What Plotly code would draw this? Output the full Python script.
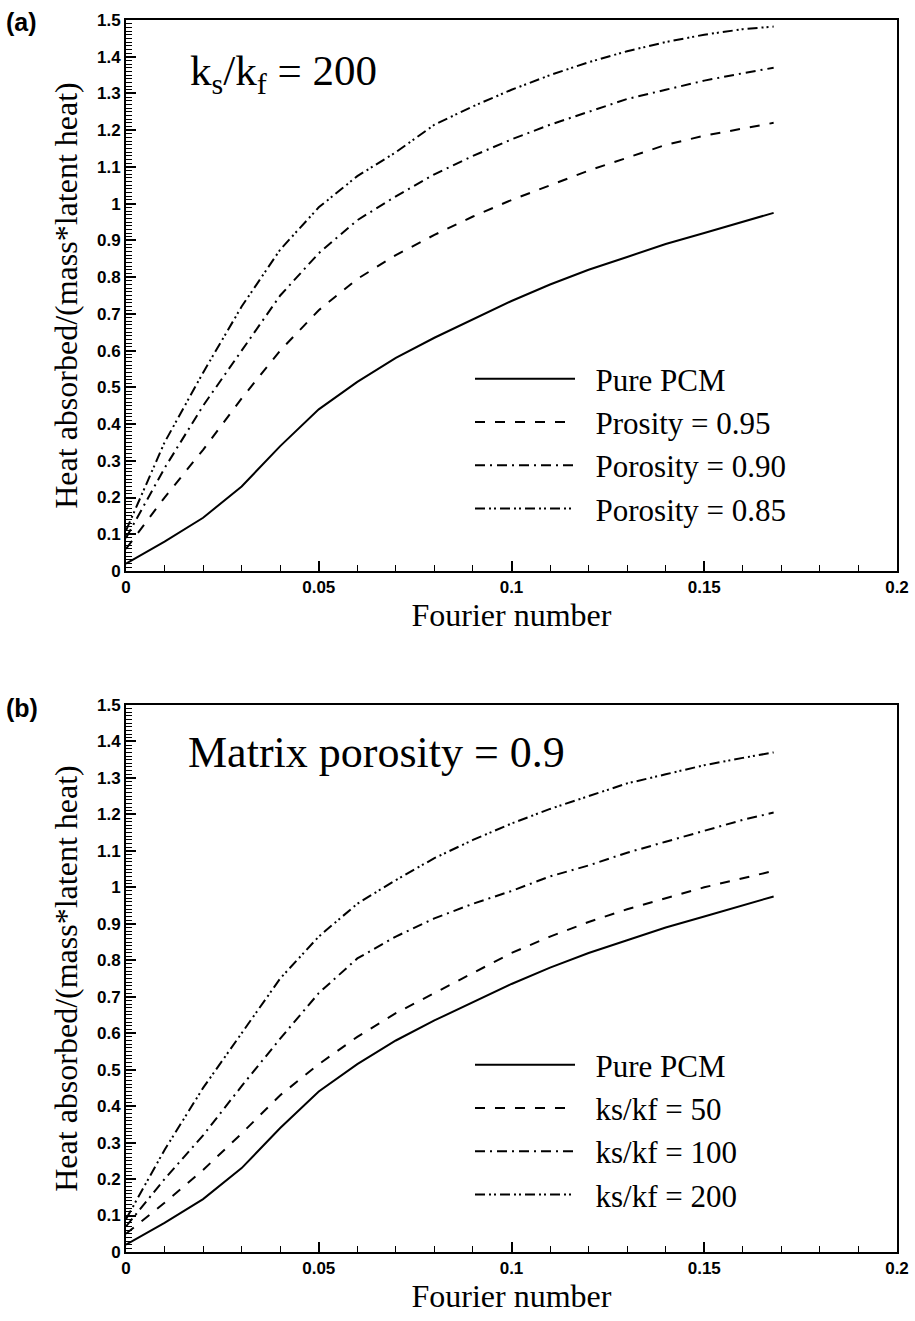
import plotly.graph_objects as go

# ---------------- data ----------------
fourier = [0, 0.01, 0.02, 0.03, 0.04, 0.05, 0.06, 0.07, 0.08, 0.09, 0.10,
           0.11, 0.12, 0.13, 0.14, 0.15, 0.16, 0.168]

pure_pcm = [0.02, 0.08, 0.145, 0.23, 0.34, 0.44, 0.515, 0.58, 0.635, 0.685, 0.735,
            0.78, 0.82, 0.855, 0.89, 0.92, 0.95, 0.975]
porosity_095 = [0.06, 0.20, 0.33, 0.47, 0.60, 0.71, 0.795, 0.86, 0.915, 0.965, 1.01,
                1.05, 1.09, 1.125, 1.16, 1.185, 1.205, 1.22]
porosity_090 = [0.09, 0.28, 0.45, 0.60, 0.75, 0.865, 0.955, 1.02, 1.08, 1.13, 1.175,
                1.215, 1.25, 1.285, 1.31, 1.335, 1.355, 1.37]
porosity_085 = [0.11, 0.35, 0.54, 0.72, 0.875, 0.99, 1.075, 1.14, 1.215, 1.265, 1.31,
                1.35, 1.385, 1.415, 1.44, 1.46, 1.475, 1.482]

ratio_50 = [0.05, 0.135, 0.225, 0.325, 0.43, 0.515, 0.59, 0.655, 0.71, 0.765, 0.82,
            0.865, 0.905, 0.94, 0.97, 1.0, 1.025, 1.045]
ratio_100 = [0.07, 0.20, 0.32, 0.455, 0.585, 0.71, 0.805, 0.865, 0.915, 0.955, 0.99,
             1.03, 1.06, 1.095, 1.125, 1.155, 1.185, 1.205]
ratio_200 = porosity_090

names_a = ["Pure PCM", "Prosity = 0.95", "Porosity = 0.90", "Porosity = 0.85"]
names_b = ["Pure PCM", "ks/kf = 50", "ks/kf = 100", "ks/kf = 200"]
series_a = [pure_pcm, porosity_095, porosity_090, porosity_085]
series_b = [pure_pcm, ratio_50, ratio_100, ratio_200]

x_ticks = [0, 0.05, 0.1, 0.15, 0.2]
x_ticktext = ["0", "0.05", "0.1", "0.15", "0.2"]
y_ticks = [round(i * 0.1, 1) for i in range(16)]

# ---------------- styles ----------------
dashes = ["solid", "10px,10px", "10px,5px,2px,5px", "10px,4px,2px,3px,2px,4px"]
serif = "Liberation Serif, Times New Roman, serif"
tickfont = dict(family="Liberation Sans, Arial, sans-serif",
                size=17, color="black", weight="bold")
PAD = "\u00a0\u00a0"

W, H = 915, 1321
def py(px):  # pixel from top -> paper
    return 1 - px / H

fig = go.Figure()

for vals, nm, ds in zip(series_a, names_a, dashes):
    fig.add_trace(go.Scatter(x=fourier, y=vals, name=PAD + nm, mode="lines",
                             line=dict(color="black", width=2, dash=ds),
                             xaxis="x", yaxis="y", legend="legend"))
for vals, nm, ds in zip(series_b, names_b, dashes):
    fig.add_trace(go.Scatter(x=fourier, y=vals, name=PAD + nm, mode="lines",
                             line=dict(color="black", width=2, dash=ds),
                             xaxis="x2", yaxis="y2", legend="legend2"))

xdom = [126 / W, 897 / W]
ydom_a = [py(571), py(20)]
ydom_b = [py(1252), py(705)]

def xaxis(anchor):
    return dict(domain=xdom, anchor=anchor, range=[0, 0.2], tickvals=x_ticks,
                ticktext=x_ticktext,
                ticks="inside", ticklen=10, tickwidth=1.5, tickcolor="black",
                minor=dict(dtick=0.01, ticks="inside", ticklen=6, tickwidth=1.2,
                           tickcolor="black", showgrid=False),
                showline=True, linecolor="black", linewidth=2, mirror=True,
                showgrid=False, zeroline=False, tickfont=tickfont,
                title=dict(text="Fourier number", font=dict(family=serif, size=32, color="black"),
                           standoff=4),
                automargin=False)

def yaxis(anchor, dom):
    return dict(domain=dom, anchor=anchor, range=[0, 1.5], tickvals=y_ticks,
                ticks="inside", ticklen=10, tickwidth=1.5, tickcolor="black",
                minor=dict(dtick=0.01, ticks="inside", ticklen=6, tickwidth=1,
                           tickcolor="black", showgrid=False),
                showline=True, linecolor="black", linewidth=2, mirror=True,
                showgrid=False, zeroline=False, tickfont=tickfont,
                title=dict(text="Heat absorbed/(mass*latent heat)",
                           font=dict(family=serif, size=32, color="black"), standoff=10),
                automargin=False)

legend_common = dict(font=dict(family=serif, size=31, color="black"),
                     bgcolor="rgba(0,0,0,0)", xanchor="left", yanchor="top",
                     itemwidth=100, tracegroupgap=0)

fig.update_layout(
    width=W, height=H,
    margin=dict(l=0, r=0, t=0, b=0),
    paper_bgcolor="white", plot_bgcolor="white",
    xaxis=xaxis("y"), yaxis=yaxis("x", ydom_a),
    xaxis2=xaxis("y2"), yaxis2=yaxis("x2", ydom_b),
    legend=dict(x=470 / W, y=py(352), **legend_common),
    legend2=dict(x=470 / W, y=py(1038), **legend_common),
    showlegend=True,
    annotations=[
        dict(text="<b>(a)</b>", x=4 / W, y=py(22), xref="paper", yref="paper",
             xanchor="left", yanchor="middle", showarrow=False,
             font=dict(family="Liberation Sans, Arial", size=25, color="black")),
        dict(text="<b>(b)</b>", x=4 / W, y=py(708), xref="paper", yref="paper",
             xanchor="left", yanchor="middle", showarrow=False,
             font=dict(family="Liberation Sans, Arial", size=25, color="black")),
        dict(text="k<sub>s</sub>/k<sub>f</sub> = 200", x=188 / W, y=py(74),
             xref="paper", yref="paper", xanchor="left", yanchor="middle",
             showarrow=False, font=dict(family=serif, size=43, color="black")),
        dict(text="Matrix porosity = 0.9", x=186 / W, y=py(752),
             xref="paper", yref="paper", xanchor="left", yanchor="middle",
             showarrow=False, font=dict(family=serif, size=44, color="black")),
    ],
)

fig.write_html("out.html")
